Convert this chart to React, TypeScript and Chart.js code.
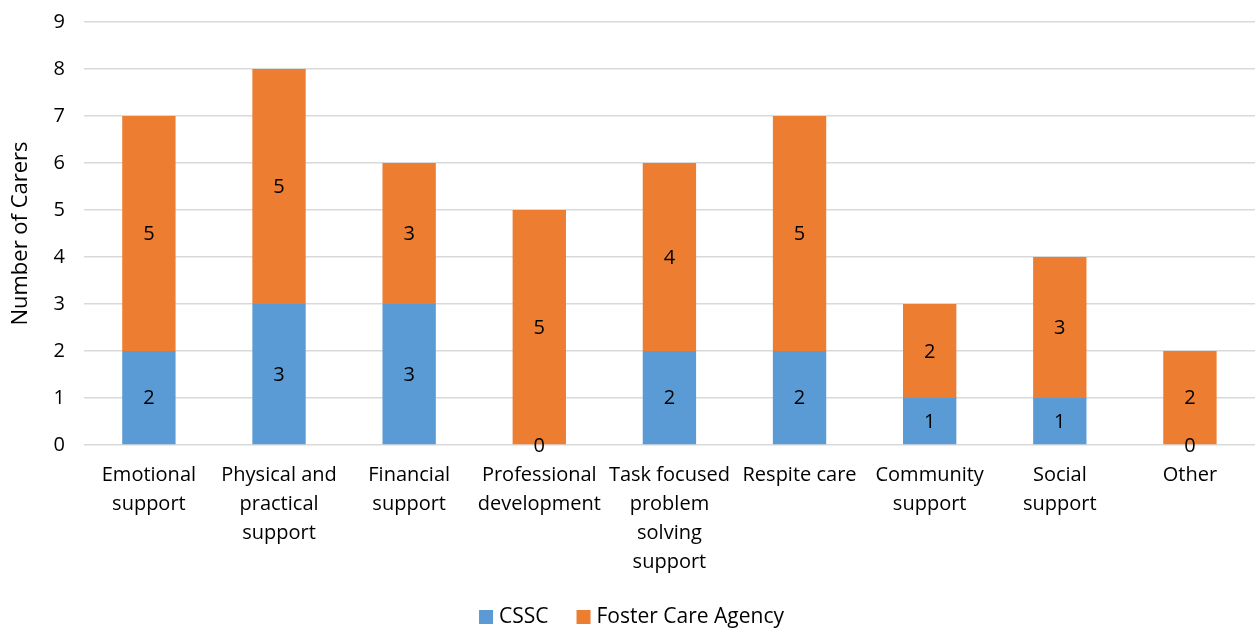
import React, { useEffect, useRef } from "react";
import { Chart, registerables } from "chart.js";

Chart.register(...registerables);

const categories: string[][] = [
  ["Emotional", "support"],
  ["Physical and", "practical", "support"],
  ["Financial", "support"],
  ["Professional", "development"],
  ["Task focused", "problem", "solving", "support"],
  ["Respite care"],
  ["Community", "support"],
  ["Social", "support"],
  ["Other"],
];
const cssc = [2, 3, 3, 0, 2, 2, 1, 1, 0];
const fosterCareAgency = [5, 5, 3, 5, 4, 5, 2, 3, 2];

const FONT = "'Open Sans', sans-serif";

const labelPlugin = {
  id: "segLabels",
  afterDatasetsDraw(chart: any) {
    const ctx = chart.ctx;
    ctx.save();
    ctx.font = `20px ${FONT}`;
    ctx.fillStyle = "#000";
    ctx.textAlign = "center";
    ctx.textBaseline = "middle";
    chart.data.datasets.forEach((ds: any, di: number) => {
      const meta = chart.getDatasetMeta(di);
      meta.data.forEach((bar: any, i: number) => {
        const v = ds.data[i];
        const y = v === 0 ? bar.base : (bar.y + bar.base) / 2;
        ctx.fillText(String(v), bar.x, y + 1);
      });
    });
    ctx.restore();
  },
};

const legendPlugin = {
  id: "customLegend",
  afterDraw(chart: any) {
    const ctx = chart.ctx;
    ctx.save();
    ctx.font = `21px ${FONT}`;
    ctx.textBaseline = "middle";
    ctx.textAlign = "left";
    const box = 14, gapBox = 6, gapItem = 28;
    const items = chart.data.datasets.map((ds: any) => ({
      text: ds.label,
      color: ds.backgroundColor,
      w: ctx.measureText(ds.label).width,
    }));
    const total = items.reduce((s: number, it: any) => s + box + gapBox + it.w, 0) + gapItem * (items.length - 1);
    let x = chart.width / 2 - total / 2 + 3;
    const cy = 617;
    items.forEach((it: any) => {
      ctx.fillStyle = it.color;
      ctx.fillRect(x, cy - box / 2, box, box);
      x += box + gapBox;
      ctx.fillStyle = "#000";
      ctx.fillText(it.text, x, cy);
      x += it.w + gapItem;
    });
    ctx.restore();
  },
};

export default function App() {
  const ref = useRef<HTMLCanvasElement>(null);
  useEffect(() => {
    const chart = new Chart(ref.current!, {
      type: "bar",
      data: {
        labels: categories,
        datasets: [
          { label: "CSSC", data: cssc, backgroundColor: "#5B9BD5", barPercentage: 0.41, categoryPercentage: 1 },
          { label: "Foster Care Agency", data: fosterCareAgency, backgroundColor: "#ED7D31", barPercentage: 0.41, categoryPercentage: 1 },
        ],
      },
      options: {
        animation: false,
        responsive: false,
        layout: { padding: { top: 0, right: 2, left: 0, bottom: 43 } },
        plugins: {
          tooltip: { enabled: false },
          legend: { display: false },
        },
        scales: {
          x: {
            stacked: true,
            grid: { display: false },
            border: { display: false },
            ticks: { font: { family: FONT, size: 20, lineHeight: 1.45 }, color: "#000", maxRotation: 0, autoSkip: false, padding: 8 },
          },
          y: {
            stacked: true,
            min: 0,
            max: 9,
            afterFit: (scale: any) => {
              scale.paddingTop = 22;
            },
            ticks: { stepSize: 1, font: { family: FONT, size: 20 }, color: "#000", padding: 19 },
            grid: { color: "#D9D9D9", lineWidth: 1.5, drawTicks: false },
            border: { display: false },
            title: { display: true, text: "Number of Carers", font: { family: FONT, size: 22 }, color: "#000", padding: { top: 8, bottom: 0 } },
          },
        },
      },
      plugins: [labelPlugin, legendPlugin],
    });
    return () => chart.destroy();
  }, []);
  return (
    <div style={{ position: "fixed", left: 0, top: 0, width: 1257, height: 628, background: "#fff" }}>
      <canvas ref={ref} width={1257} height={628} />
    </div>
  );
}
